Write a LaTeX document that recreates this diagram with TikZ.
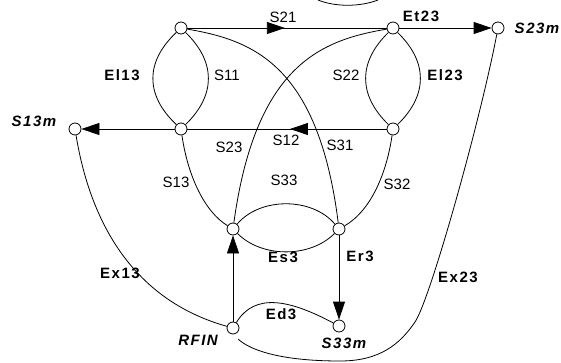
\documentclass[tikz,border=0pt]{standalone}
\usepackage{fontspec}
\setmainfont{Liberation Sans}
\usetikzlibrary{arrows.meta, calc}

\begin{document}
\begin{tikzpicture}[
  x=1pt, y=1pt, line width=0.8pt,
  port/.style={circle, draw, fill=white, minimum size=12pt, inner sep=0pt},
  sterm/.style={font=\fontsize{15}{18}\selectfont, inner sep=1pt},
  eterm/.style={font=\fontsize{15}{18}\selectfont\bfseries\addfontfeature{LetterSpace=10}, inner sep=1pt},
  pname/.style={font=\fontsize{15}{18}\selectfont\bfseries\itshape\addfontfeature{LetterSpace=10}, inner sep=1pt},
  flow/.style={-{Triangle[length=18pt, width=12pt]}}
]
  \useasboundingbox (0,0) rectangle (561,362);

  \node[port] (A) at (181, 334) {};
  \node[port] (B) at (393, 334) {};
  \node[port] (C) at (181, 233) {};
  \node[port] (D) at (393, 233) {};
  \node[port] (E) at (233, 133) {};
  \node[port] (F) at (339, 133) {};
  \node[port] (S23m) at (498, 334) {};
  \node[port] (S13m) at (75, 233) {};
  \node[port] (RFIN) at (233, 34) {};
  \node[port] (S33m) at (339, 36) {};

  \draw (A) -- (B);
  \draw[flow] (A) -- ($(A)!0.49!(B)$);
  \draw[flow] (B) -- (S23m);
  \draw (D) -- (C);
  \draw[flow] (D) -- ($(D)!0.486!(C)$);
  \draw[flow] (C) -- (S13m);
  \draw[flow] (RFIN) -- (E);
  \draw[flow] (F) -- (S33m);

  \draw (A) .. controls (145, 300) and (145, 267) .. (C);
  \draw (A) .. controls (216, 300) and (216, 267) .. (C);
  \draw (B) .. controls (358, 300) and (358, 267) .. (D);
  \draw (B) .. controls (428, 300) and (428, 267) .. (D);
  \draw (A) .. controls (250, 322) and (318, 300) .. (F);
  \draw (B) .. controls (324, 322) and (256, 300) .. (E);
  \draw (C) .. controls (188, 185) and (205, 150) .. (E);
  \draw (D) .. controls (386, 185) and (369, 150) .. (F);
  \draw (E) .. controls (260, 165) and (312, 165) .. (F);
  \draw (E) .. controls (262, 104) and (310, 104) .. (F);
  \draw (RFIN) .. controls (255, 70) and (290, 62) .. (S33m);
  \draw (S13m) .. controls (92, 130) and (140, 60) .. (RFIN);
  \draw[shorten <=7pt] (RFIN.south) .. controls (250, 12) and (280, 1) .. (340, 1)
    .. controls (380, 1) and (400, 18) .. (415, 40)
    .. controls (430, 62) and (480, 240) .. (S23m);
  \draw (318, 362) .. controls (335, 355) and (360, 355) .. (378, 362);

  \node[sterm] (lS21) at (283, 345) {S21};
  \node[eterm] (lEt23) at (421, 346) {Et23};
  \node[pname] (lS23m) at (537, 334) {S23m};
  \node[pname] (lS13m) at (34, 241) {S13m};
  \node[eterm] (lEl13) at (122, 287) {El13};
  \node[sterm] (lS11) at (227, 287) {S11};
  \node[sterm] (lS22) at (346, 287) {S22};
  \node[eterm] (lEl23) at (445, 287) {El23};
  \node[sterm] (lS23) at (229, 215) {S23};
  \node[sterm] (lS12) at (286, 222) {S12};
  \node[sterm] (lS31) at (340, 217) {S31};
  \node[sterm] (lS13) at (176, 180) {S13};
  \node[sterm] (lS33) at (284, 182) {S33};
  \node[sterm] (lS32) at (397, 178) {S32};
  \node[eterm] (lEs3) at (283, 105) {Es3};
  \node[eterm] (lEr3) at (360, 106) {Er3};
  \node[eterm] (lEd3) at (281, 48) {Ed3};
  \node[eterm] (lEx13) at (120, 89) {Ex13};
  \node[eterm] (lEx23) at (458, 85) {Ex23};
  \node[pname] (lRFIN) at (198, 22) {RFIN};
  \node[pname] (lS33m) at (344, 19) {S33m};
\end{tikzpicture}
\end{document}
